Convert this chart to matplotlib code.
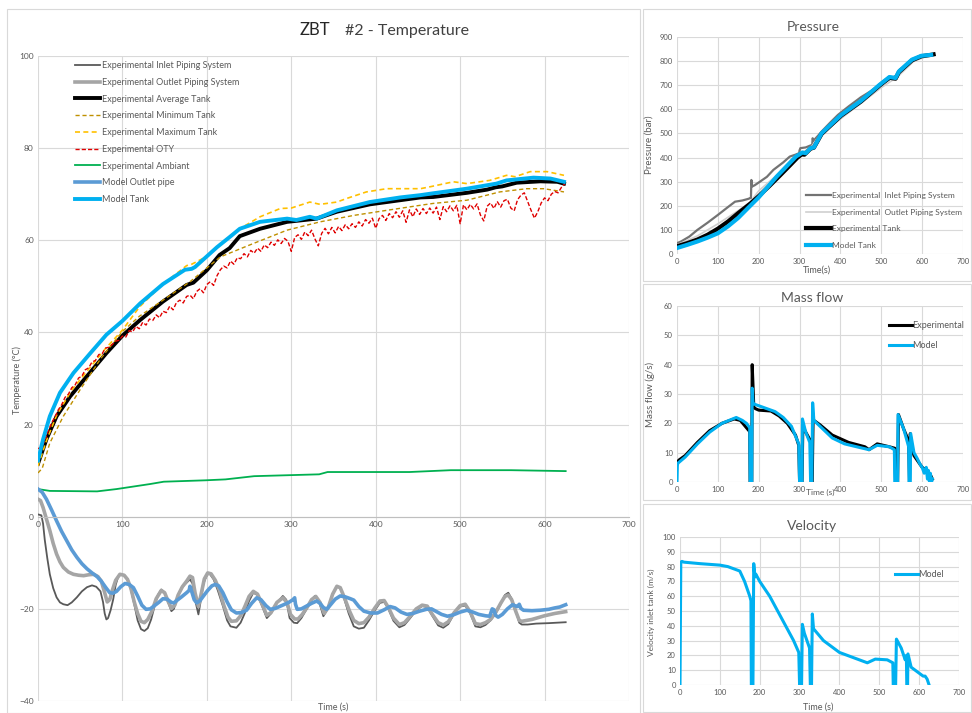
import numpy as np
import matplotlib
matplotlib.use("Agg")
import matplotlib.pyplot as plt
from matplotlib.patches import Rectangle

plt.rcParams['font.family'] = ['Lato', 'DejaVu Sans']

# ---------------- Main chart data (Temperature) ----------------
inlet_t = [0, 4, 6, 8, 11, 14, 18, 22, 26, 30, 35, 40, 46, 52, 58, 64, 69, 74, 77, 79, 81, 83, 86, 89, 92, 95, 98,
           102, 106, 110, 114, 118, 122, 126, 130, 134, 138, 142, 146, 150, 154, 158, 161, 165, 170, 175, 180, 183,
           186, 190, 193, 196, 200, 203, 208, 213, 219, 224, 228, 235, 240, 245, 250, 255, 260, 265, 271, 276, 283,
           290, 294, 298, 303, 307, 312, 318, 323, 328, 333, 338, 343, 348, 354, 358, 363, 368, 374, 380, 386, 392,
           399, 405, 410, 415, 421, 428, 434, 440, 448, 455, 461, 467, 474, 480, 486, 493, 500, 506, 512, 518, 524,
           530, 536, 542, 548, 553, 557, 561, 566, 570, 573, 580, 590, 605, 625]
inlet_T = [0.5, 0.3, -1.5, -5, -9, -12.5, -15.5, -17.5, -18.6, -19.0, -19.2, -18.6, -17.5, -16.2, -15.3, -14.9,
           -15.2, -16.2, -18.5, -21, -22.3, -22, -20.3, -18, -14.8, -13, -12.5, -12.7, -13.5, -15.8, -19, -22.5,
           -24.4, -24.8, -24.2, -22.3, -19.5, -17, -15.8, -16.5, -18.5, -20.5, -20, -17.5, -15.4, -14.5, -13.6,
           -14.5, -18, -21.2, -18, -14.5, -12.7, -12.3, -13.6, -16, -19.4, -22.5, -23.8, -24.1, -23, -20.9, -18.3,
           -16.5, -17, -19.2, -22, -21, -18.7, -17.2, -18, -22, -23, -23.1, -22, -20.1, -18.3, -17.2, -18.5, -21.6,
           -20, -17.2, -15.1, -15.5, -18, -21, -23.8, -24.3, -24.1, -22.5, -20.3, -18.7, -18.5, -20, -22.6, -24,
           -23.5, -22.2, -20.3, -19.4, -19.6, -21.5, -23.6, -24.1, -23.3, -21, -19.5, -19.3, -21, -23.8, -24, -23.5,
           -22.5, -21, -19, -17, -16.5, -17.8, -20.5, -23, -23.4, -23.4, -23.2, -23.1, -22.9]

outlet_t = [0, 3, 6, 10, 14, 18, 22, 26, 30, 36, 42, 48, 54, 60, 66, 71, 75, 79, 82, 85, 88, 92, 97, 102, 106, 110,
            114, 118, 122, 126, 130, 135, 140, 146, 150, 154, 158, 162, 166, 171, 176, 180, 183, 186, 190, 193, 197,
            201, 205, 210, 215, 220, 225, 229, 235, 240, 245, 250, 255, 260, 265, 271, 276, 283, 290, 295, 299, 304,
            308, 313, 319, 324, 329, 334, 339, 344, 349, 354, 358, 363, 369, 374, 380, 386, 392, 399, 405, 410, 415,
            421, 428, 434, 440, 448, 455, 461, 467, 474, 480, 486, 493, 500, 506, 512, 518, 524, 530, 536, 542, 548,
            553, 557, 561, 566, 570, 573, 585, 600, 612, 625]
outlet_T = [3.8, 3.5, 2.0, -0.5, -3.0, -5.8, -8.1, -9.8, -11, -12, -12.5, -12.7, -12.8, -12.6, -12.5, -13, -14,
            -16.5, -18.5, -18, -16, -13.8, -12.5, -12.7, -13.6, -15.5, -18.5, -21, -22.7, -23, -22.3, -20.5, -17.8,
            -16, -16.5, -18.3, -19.9, -19.2, -17, -15.2, -14, -12.9, -13.2, -16.5, -19.5, -17, -13.5, -12.2, -12.4,
            -13.8, -16, -19.2, -21.8, -22.7, -22.6, -21.5, -19.5, -17.3, -16.2, -16.8, -18.8, -21.4, -20.8, -18.6,
            -17.6, -18.6, -21.2, -22.2, -22.2, -21.2, -19.6, -18, -17.3, -18.6, -21, -19.6, -16.8, -15.1, -15.4,
            -17.6, -20.5, -22.5, -23.2, -23, -21.8, -19.8, -18.3, -18.2, -19.7, -22, -23.4, -23, -21.8, -20, -19.2,
            -19.4, -21.2, -23, -23.5, -22.8, -20.8, -19.3, -19.0, -20.7, -23.2, -23.4, -23, -22.3, -20.8, -18.8,
            -17.3, -17.0, -18, -20.6, -22.5, -22.7, -22.3, -21.5, -21, -20.6]

avg_t = [0, 10, 22, 38, 58, 81, 100, 121, 148, 176, 184, 200, 215, 227, 239, 263, 295, 330, 354, 393, 429, 453,
         468, 508, 532, 542, 550, 567, 595, 615, 623]
avg_T = [11.5, 16.8, 21.8, 26.1, 30.5, 35.5, 39.3, 42.7, 46.7, 50.3, 50.8, 53.5, 56.8, 58.3, 60.9, 62.5, 64.0,
         64.7, 66.2, 67.8, 68.7, 69.3, 69.4, 70.3, 71.0, 71.5, 71.7, 72.5, 72.8, 72.7, 72.3]

min_t = [0, 5, 14, 30, 50, 75, 100, 120, 148, 180, 216, 255, 295, 334, 374, 413, 453, 468, 508, 547, 579, 599, 623]
min_T = [9.5, 10.5, 16, 21.8, 27.6, 34.5, 40.2, 43.5, 47, 51, 56.4, 59.3, 62.2, 64.0, 65.4, 66.5, 67.6, 68.0,
         68.7, 70.5, 71.2, 71.2, 70.5]

max_t = [0, 10, 22, 40, 60, 80, 100, 120, 148, 176, 182, 200, 215, 239, 263, 287, 300, 322, 334, 354, 366, 389,
         413, 453, 464, 492, 508, 535, 555, 565, 583, 603, 623]
max_T = [11.0, 16.5, 22.0, 27.5, 32.0, 36.5, 40.5, 45.5, 50.5, 54.5, 54.8, 56.5, 59.0, 62.5, 65.1, 66.9, 67.0,
         68.3, 67.8, 68.3, 69.1, 70.5, 71.2, 71.2, 71.6, 72.7, 72.3, 73.0, 74.1, 73.8, 74.9, 74.9, 74.1]

oty_t = list(range(0, 625, 4))
oty_T = [14.8, 15.0, 16.5, 18.6, 20.3, 21.6, 23.2, 24.3, 25.9, 26.6, 28.0, 28.6, 30.1, 30.5, 31.9, 32.3, 33.6,
         33.9, 35.2, 35.4, 36.6, 36.8, 37.4, 38.1, 38.3, 39.2,
         39.0, 40.4, 40.1, 41.3, 40.8, 42.2, 41.6, 42.9, 42.6, 43.8, 43.2, 44.6, 44.3, 45.7, 44.9, 46.5, 47.0,
         46.4, 47.8, 48.1, 47.3, 48.9, 49.5, 48.6, 50.4, 51.0, 50.2, 52.3, 53.6, 54.4, 54.0, 55.5, 54.8, 56.2,
         56.0, 57.1, 56.4, 57.8, 57.2, 58.3, 57.6, 59.0, 58.4, 59.6, 58.9, 60.1, 59.3, 60.4, 59.8, 57.6, 60.6,
         61.2, 60.2, 61.8, 61.0, 62.2, 60.3, 58.8, 61.5, 62.6, 61.4, 62.8, 61.6, 63.0, 62.1, 63.4, 62.5, 63.6,
         62.8, 64.0, 63.1, 64.5, 63.7, 64.8, 62.6, 64.7, 65.4, 64.3, 65.8, 64.9, 66.2, 65.0, 66.4, 63.9, 66.6,
         65.1, 66.8, 65.6, 66.9, 65.8, 67.0, 65.9, 67.2, 64.5, 67.3, 66.2, 67.5, 66.4, 67.6, 63.6, 67.7, 66.6,
         67.8, 66.8, 67.9, 65.5, 64.2, 67.4, 68.1, 66.9, 68.4, 67.2, 68.6, 68.9, 67.0, 66.4, 68.8, 69.8, 70.3,
         68.4, 66.5, 64.8, 66.2, 68.1, 69.2, 68.6, 70.0, 70.6, 70.3, 71.5, 72.3]

amb_t = [0, 14, 70, 93, 133, 149, 198, 222, 256, 333, 343, 440, 489, 560, 625]
amb_T = [6.0, 5.6, 5.5, 6.0, 7.1, 7.6, 7.9, 8.1, 8.8, 9.2, 9.7, 9.7, 10.1, 10.1, 9.9]

mout_t = [0, 5, 10, 16, 22, 28, 34, 40, 46, 52, 58, 64, 70, 75, 80, 85, 89, 93, 98, 103, 108, 113, 118, 123, 128,
          133, 138, 143, 148, 153, 158, 161, 165, 170, 176, 179, 180, 182, 185, 188, 192, 196, 201, 206, 210, 214,
          219, 224, 229, 235, 241, 247, 253, 259, 264, 270, 275, 281, 286, 291, 297, 302, 304, 305, 307, 312, 318,
          324, 330, 334, 338, 342, 347, 352, 358, 364, 370, 374, 380, 386, 394, 402, 410, 417, 423, 430, 437, 444,
          452, 460, 466, 472, 478, 485, 492, 500, 508, 515, 522, 530, 535, 538, 540, 542, 545, 550, 556, 562, 566,
          568, 570, 572, 575, 585, 595, 605, 612, 618, 625]
mout_T = [6.0, 5.3, 3.8, 1.5, -0.9, -3.2, -5.2, -7.2, -8.8, -10.2, -11.3, -12.2, -13.0, -14.0, -15.3, -16.5, -16.6,
          -16.2, -15.2, -14.5, -14.7, -15.4, -17.2, -19.2, -20.1, -20, -19.3, -18.6, -17.8, -17.9, -18.6, -18.7,
          -18.1, -17.4, -16.5, -16, -15.1, -16.2, -18, -18.7, -18.2, -17.2, -16, -15, -14.7, -15, -16.5, -18.5,
          -20.2, -20.9, -20.8, -20.3, -18.8, -17.6, -18, -19.3, -20.1, -19.9, -19.5, -19.1, -18.6, -18.0, -17.6,
          -19, -20.1, -20, -19.4, -18.8, -18.3, -18.8, -19.7, -20.1, -19, -17.9, -17.2, -17.4, -17.8, -18.1, -19.5,
          -20.5, -20.9, -20.9, -20.2, -19.5, -19.8, -20.7, -21.2, -21, -20.5, -20.1, -20, -20.6, -21.2, -21.6,
          -21.3, -20.7, -20.3, -20.7, -21.2, -21.5, -21.6, -20.0, -20.2, -21.4, -21.8, -21.2, -20, -19.1, -19.4,
          -19.5, -19.0, -19.9, -20.3, -20.4, -20.3, -20.1, -19.8, -19.6, -19.1]

mtank_t = [0, 6, 14, 26, 42, 62, 81, 100, 121, 148, 174, 182, 186, 212, 227, 239, 263, 295, 306, 322, 330, 354,
           393, 429, 453, 468, 508, 543, 555, 587, 607, 623]
mtank_T = [12.2, 16.8, 21.8, 26.9, 31.2, 35.5, 39.5, 42.5, 46.3, 50.5, 53.6, 53.8, 54.2, 58.5, 60.7, 62.5, 64.0,
           64.7, 64.4, 65.1, 64.7, 66.5, 68.3, 69.3, 69.8, 70.2, 71.2, 72.3, 73.0, 73.6, 73.4, 72.7]

# ---------------- Pressure ----------------
p_in_t = [0, 10, 30, 50, 75, 100, 125, 142, 160, 173, 180, 181, 182, 184, 190, 197, 220, 236, 260, 276, 290, 299,
          300, 302, 315, 331, 332, 334, 345, 354, 375, 394, 420, 450, 496, 520, 535, 540, 545, 555, 575, 590, 605,
          615, 625]
p_in = [45, 52, 72, 100, 130, 162, 195, 217, 222, 228, 232, 232, 307, 280, 285, 293, 320, 349, 380, 404, 412, 418,
        430, 439, 442, 453, 480, 470, 490, 508, 545, 577, 612, 650, 698, 725, 738, 735, 765, 775, 800, 815, 822,
        826, 828]
p_out_t = [0, 50, 100, 150, 180, 190, 200, 250, 300, 330, 350, 400, 500, 540, 580, 625]
p_out = [38, 75, 125, 180, 215, 240, 262, 335, 412, 447, 495, 560, 690, 735, 800, 828]
p_tank_t = [0, 25, 50, 75, 100, 125, 150, 180, 200, 225, 250, 275, 295, 305, 312, 327, 335, 354, 402, 450, 496,
            520, 535, 543, 575, 598, 622, 628]
p_tank = [32, 45, 60, 80, 105, 135, 170, 210, 240, 280, 322, 365, 400, 413, 412, 437, 441, 498, 574, 632, 699,
          731, 727, 754, 803, 820, 826, 828]
p_model_t = [0, 25, 50, 75, 100, 125, 150, 181, 200, 244, 291, 307, 315, 327, 335, 354, 402, 450, 496, 520, 535,
             543, 575, 598, 622]
p_model = [25, 38, 52, 68, 86, 115, 150, 203, 235, 321, 404, 421, 418, 439, 442, 501, 577, 635, 702, 734, 730,
           757, 806, 822, 826]

# ---------------- Mass flow ----------------
mf_exp_t = [0, 2, 5, 20, 50, 80, 110, 140, 155, 170, 176, 178, 179, 181, 183, 184, 186, 188, 192, 200, 230, 250,
            270, 290, 298, 300, 302, 304, 306, 308, 315, 327, 329, 331, 333, 335, 350, 380, 420, 460, 470, 490,
            520, 533, 535, 538, 540, 542, 555, 567, 569, 571, 573, 580, 590, 600, 610, 620, 625]
mf_exp = [6, 7, 7.5, 9, 13.5, 17.5, 20, 21.5, 21, 18.5, 17.5, 17.3, 0, 0, 0, 40, 33, 25.5, 25, 24.5, 24.2, 22.5,
          20, 16, 12.5, 0, 0, 0, 0, 19, 17, 14, 0, 0, 21, 21, 19.5, 16, 13.5, 12, 11, 13, 12, 11.5, 0, 0, 0, 23,
          18, 14, 0, 16.5, 13, 9, 7, 5, 4, 2.5, 1]
mf_mod_t = [0, 1, 3, 20, 50, 80, 110, 145, 160, 170, 178, 179, 183, 184, 186, 190, 200, 220, 240, 260, 280, 298,
            300, 306, 307, 315, 325, 327, 330, 332, 335, 350, 380, 410, 440, 470, 490, 520, 532, 533, 540, 541,
            555, 567, 568, 571, 572, 580, 588, 595, 600, 605, 610, 613, 615, 618, 620, 623, 625]
mf_mod = [0, 6, 6.5, 8.5, 13, 17, 20, 22, 21, 20, 18.5, 0, 0, 32, 27, 26.5, 26, 25, 24, 22, 19, 13, 0, 0, 21.5,
          17, 13.5, 0, 0, 27, 21, 19, 15, 13, 12, 11, 12.5, 12, 11, 0, 0, 23, 18, 12, 0, 0, 16.5, 10, 8, 6, 5, 3,
          5, 1, 4, 0, 3, 0, 1]

# ---------------- Velocity ----------------
vel_t = [0, 2, 5, 10, 50, 100, 120, 150, 162, 175, 178, 179, 183, 185, 188, 190, 200, 225, 245, 265, 285, 298, 300,
         305, 307, 312, 325, 327, 330, 332, 335, 360, 400, 440, 470, 490, 520, 534, 535, 541, 543, 555, 565, 568,
         569, 571, 572, 580, 600, 610, 615, 620, 625]
vel = [0, 83, 83.5, 83, 82, 81, 80, 77, 70, 60, 57, 0, 0, 82, 73, 75, 70, 60, 50, 40, 30, 22, 0, 0, 41, 35, 25, 0,
       0, 48, 38, 30, 22, 18, 15, 17.5, 17, 15, 0, 0, 31, 25, 17, 20, 0, 0, 21, 12, 8, 6, 6, 4, 0]

# ---------------- Figure ----------------
W, H = 972, 713
fig = plt.figure(figsize=(W / 100, H / 100), dpi=100)
fig.patch.set_facecolor('white')

def fx(px):
    return px / W

def fy(py):
    return 1 - py / H

# panel borders
border = '#D9D9D9'
for (x0, y0, x1, y1) in [(7, 9, 640, 713), (643, 9, 971, 281), (643, 284, 971, 500), (643, 504, 971, 712)]:
    fig.patches.append(Rectangle((fx(x0), fy(y1)), fx(x1 - x0), (y1 - y0) / H, transform=fig.transFigure,
                                 fill=False, edgecolor=border, linewidth=0.8))

GRID = '#D9D9D9'
TXT = '#595959'

def style(ax, xt, yt, fs=6):
    for s in ax.spines.values():
        s.set_visible(False)
    ax.set_xticks(xt)
    ax.set_yticks(yt)
    ax.grid(True, color=GRID, linewidth=0.8)
    ax.set_axisbelow(True)
    ax.tick_params(length=0, labelsize=fs, labelcolor=TXT, pad=3)

# Main chart
ax = fig.add_axes([fx(38), fy(701), fx(629 - 38), (701 - 56) / H])
style(ax, range(0, 701, 100), range(-40, 101, 20), fs=6)
ax.set_xlim(0, 700)
ax.set_ylim(-40, 100)
ax.spines['bottom'].set_visible(True)
ax.spines['bottom'].set_position(('data', 0))
ax.spines['bottom'].set_color('#BFBFBF')
ax.spines['bottom'].set_linewidth(0.8)

ax.plot(inlet_t, inlet_T, color='#595959', lw=1.3, label='Experimental Inlet Piping System')
ax.plot(outlet_t, outlet_T, color='#A5A5A5', lw=2.6, label='Experimental Outlet Piping System')
ax.plot(avg_t, avg_T, color='black', lw=2.8, label='Experimental Average Tank')
ax.plot(min_t, min_T, color='#BF9000', lw=1.0, ls=(0, (3, 2)), label='Experimental Minimum Tank')
ax.plot(max_t, max_T, color='#FFC000', lw=1.2, ls=(0, (3, 2)), label='Experimental Maximum Tank')
ax.plot(oty_t, oty_T, color='#E00000', lw=1.0, ls=(0, (3, 1.5)), label='Experimental OTY')
ax.plot(amb_t, amb_T, color='#00B050', lw=1.3, label='Experimental Ambiant')
ax.plot(mout_t, mout_T, color='#5B9BD5', lw=2.6, label='Model Outlet pipe')
ax.plot(mtank_t, mtank_T, color='#00B0F0', lw=2.8, label='Model Tank')
ax.legend(loc='upper left', bbox_to_anchor=((75 - 38) / 591, (701 - 61) / 645), frameon=False,
          fontsize=6.5, handlelength=2.8, handletextpad=0.15, labelspacing=0.86, borderaxespad=0,
          borderpad=0, labelcolor=TXT)

fig.text(fx(300), fy(30), 'ZBT', fontsize=12, color='#262626', va='center', ha='left')
fig.text(fx(345), fy(31), '#2 - Temperature', fontsize=11.5, color='#404040', va='center', ha='left')
fig.text(fx(333), fy(707), 'Time (s)', fontsize=6.5, color=TXT, ha='center', va='center')
fig.text(fx(17), fy(380), 'Temperature (°C)', fontsize=6.5, color=TXT, ha='center', va='center', rotation=90)

# Pressure
axp = fig.add_axes([fx(677), fy(254), fx(286), 217 / H])
style(axp, range(0, 701, 100), range(0, 901, 100), fs=5.5)
axp.set_xlim(0, 700)
axp.set_ylim(0, 900)
axp.plot(p_in_t, p_in, color='#737373', lw=1.6, label='Experimental  Inlet Piping System')
axp.plot(p_out_t, p_out, color='#CFCFCF', lw=1.2, label='Experimental  Outlet Piping System')
axp.plot(p_tank_t, p_tank, color='black', lw=3.0, label='Experimental Tank')
axp.plot(p_model_t, p_model, color='#00B0F0', lw=3.0, label='Model Tank')
axp.legend(loc='upper left', bbox_to_anchor=((806 - 677) / 286, (254 - 192) / 217), frameon=False,
           fontsize=6, handlelength=3.0, handletextpad=0.1, labelspacing=1.15, borderaxespad=0, borderpad=0,
           labelcolor=TXT)
fig.text(fx(813), fy(27), 'Pressure', fontsize=10, color=TXT, ha='center', va='center')
fig.text(fx(817), fy(270), 'Time(s)', fontsize=6.5, color=TXT, ha='center', va='center')
fig.text(fx(649), fy(145), 'Pressure (bar)', fontsize=7, color=TXT, ha='center', va='center', rotation=90)

# Mass flow
axm = fig.add_axes([fx(677), fy(482), fx(286), 176 / H])
style(axm, range(0, 701, 100), range(0, 61, 10), fs=5.5)
axm.set_xlim(0, 700)
axm.set_ylim(0, 60)
axm.plot(mf_exp_t, mf_exp, color='black', lw=2.2, label='Experimental')
axm.plot(mf_mod_t, mf_mod, color='#00B0F0', lw=2.2, label='Model')
axm.legend(loc='upper left', bbox_to_anchor=((889 - 677) / 286, (482 - 321) / 176), frameon=False,
           fontsize=6.5, handlelength=2.5, handletextpad=0.1, labelspacing=1.2, borderaxespad=0, borderpad=0,
           labelcolor=TXT)
fig.text(fx(812), fy(298), 'Mass flow', fontsize=10, color=TXT, ha='center', va='center')
fig.text(fx(820), fy(492), 'Time (s)', fontsize=6, color=TXT, ha='center', va='center')
fig.text(fx(650), fy(394), 'Mass flow (g/s)', fontsize=7, color=TXT, ha='center', va='center', rotation=90)

# Velocity
axv = fig.add_axes([fx(680), fy(685), fx(279), 148 / H])
style(axv, range(0, 701, 100), range(0, 101, 10), fs=5.5)
axv.set_xlim(0, 700)
axv.set_ylim(0, 100)
axv.plot(vel_t, vel, color='#00B0F0', lw=2.2, label='Model')
axv.legend(loc='upper left', bbox_to_anchor=((895 - 680) / 279, (685 - 570) / 148), frameon=False,
           fontsize=6.5, handlelength=2.5, handletextpad=0.1, borderaxespad=0, borderpad=0, labelcolor=TXT)
fig.text(fx(812), fy(526), 'Velocity', fontsize=10, color=TXT, ha='center', va='center')
fig.text(fx(818), fy(707), 'Time (s)', fontsize=6.5, color=TXT, ha='center', va='center')
fig.text(fx(651), fy(612), 'Velocity inlet tank (m/s)', fontsize=6, color=TXT, ha='center', va='center',
         rotation=90)

fig.savefig('out.png', dpi=100)
